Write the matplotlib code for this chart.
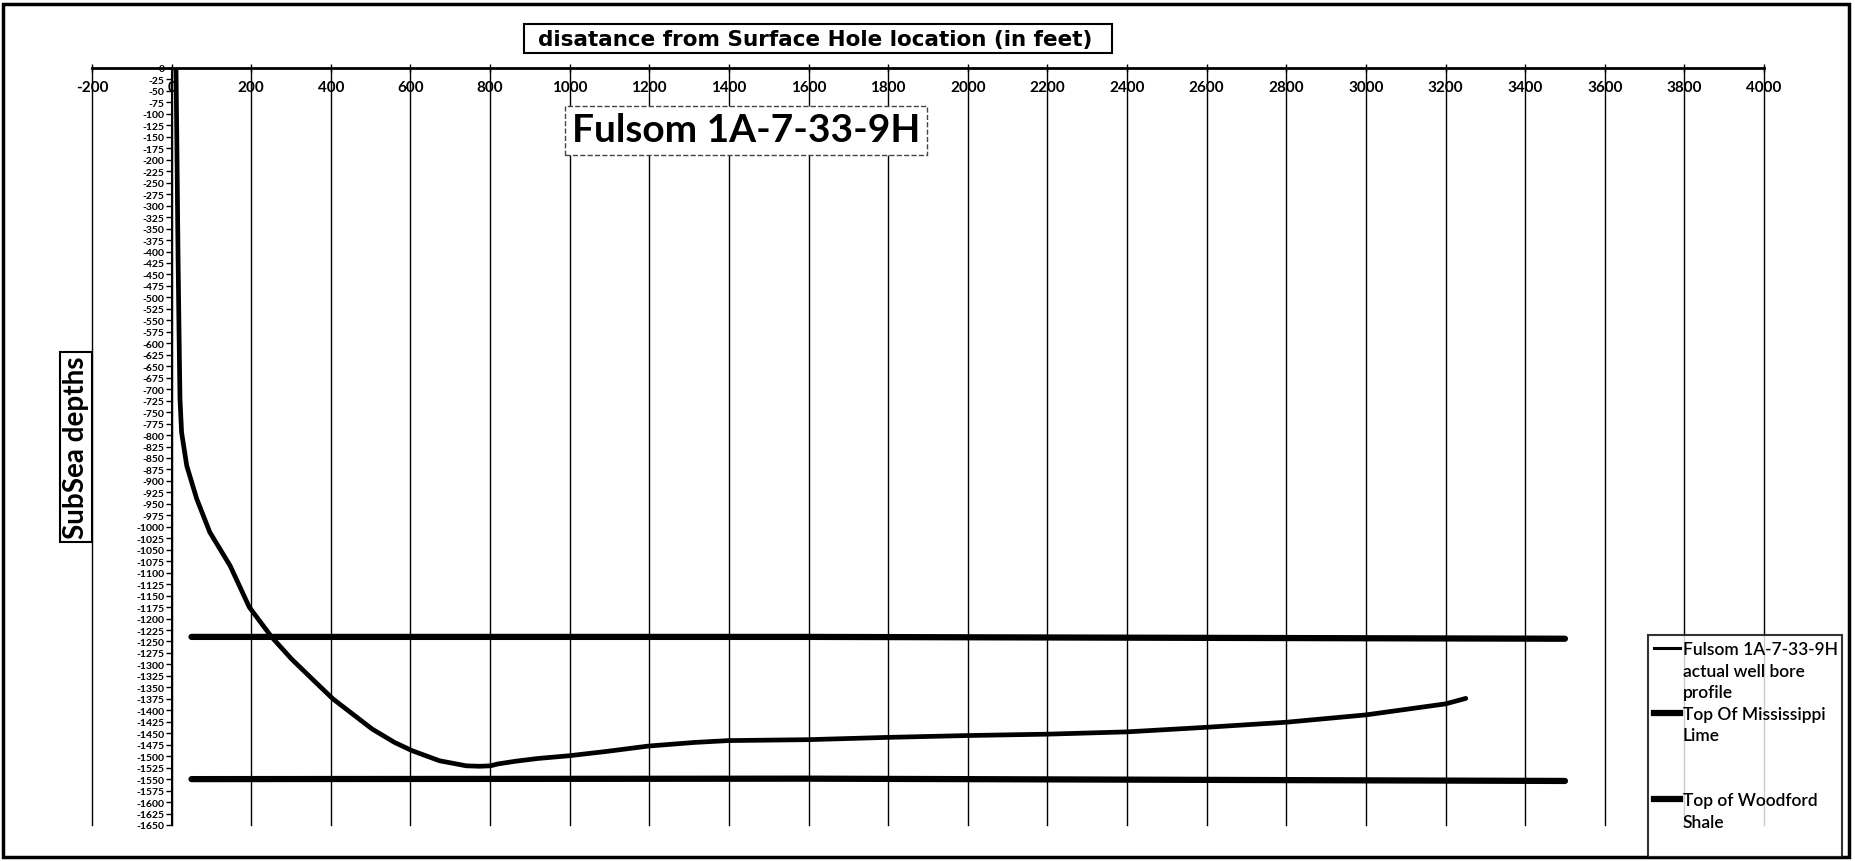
import matplotlib.pyplot as plt
from matplotlib.lines import Line2D
from matplotlib.patches import Rectangle

plt.rcParams['font.family'] = ['Lato', 'DejaVu Sans']
plt.rcParams['axes.unicode_minus'] = False

# well bore profile: distance from surface hole (ft) vs subsea depth (ft)
well_x = [11, 13, 16, 19, 21, 25, 38, 63, 96, 147, 195, 251, 301, 357, 405,
          459, 504, 560, 604, 673, 740, 774, 801, 819, 864, 920, 999, 1089,
          1197, 1314, 1399, 1599, 1800, 2000, 2200, 2400, 2600, 2800, 3000,
          3200, 3251]
well_y = [0, -150, -400, -600, -721, -794, -867, -939, -1012, -1085, -1175,
          -1240, -1288, -1335, -1375, -1411, -1441, -1470, -1488, -1510,
          -1521, -1522, -1521, -1517, -1511, -1505, -1499, -1490, -1478,
          -1470, -1466, -1464, -1459, -1455, -1452, -1447, -1437, -1426,
          -1410, -1386, -1374]

# formation tops
miss_x = [50, 1600, 3500]
miss_y = [-1240, -1240, -1244]
wood_x = [50, 1600, 3500]
wood_y = [-1550, -1549, -1554]

series_names = ['Fulsom 1A-7-33-9H\nactual well bore\nprofile',
                'Top Of Mississippi\nLime',
                'Top of Woodford\nShale']

x_ticks = list(range(-200, 4001, 200))
y_ticks = list(range(0, -1651, -25))

W, H = 1855, 862
fig = plt.figure(figsize=(W / 100, H / 100), dpi=100)
fig.patch.set_facecolor('white')


def fx(px):
    return px / W


def fy(py):
    return 1 - py / H


ax = fig.add_axes([fx(92), fy(826), fx(1764) - fx(92), fy(69) - fy(826)])
ax.set_xlim(-200, 4000)
ax.set_ylim(-1650, 0)

line_well, = ax.plot(well_x, well_y, color='black', lw=3.4,
                     solid_capstyle='round', solid_joinstyle='round')
line_miss, = ax.plot(miss_x, miss_y, color='black', lw=4.5,
                     solid_capstyle='round')
line_wood, = ax.plot(wood_x, wood_y, color='black', lw=4.5,
                     solid_capstyle='round')

# axes: x axis along the top (y = 0), y axis crossing at x = 0
ax.spines['bottom'].set_visible(False)
ax.spines['right'].set_visible(False)
ax.spines['top'].set_linewidth(2)
ax.spines['left'].set_position(('data', 0))
ax.spines['left'].set_linewidth(1.5)

ax.set_xticks(x_ticks)
ax.set_yticks(y_ticks)
ax.tick_params(axis='x', top=True, bottom=False, labeltop=True,
               labelbottom=False, direction='inout', length=6, width=1,
               pad=-22, labelsize=11)
ax.tick_params(axis='y', direction='out', length=4, width=1, pad=1,
               labelsize=7.5)
for t in ax.xaxis.get_major_ticks() + ax.yaxis.get_major_ticks():
    t.label1.set_fontweight('bold')
    t.label2.set_fontweight('bold')

ax.grid(axis='x', color='black', lw=1)
ax.set_axisbelow(True)
for gl in ax.get_xgridlines():
    gl.set_clip_on(False)

# legend, one row per text line like the excel legend
blank = Line2D([], [], color='none')
handles, labels = [], []
for ln, name in zip([line_well, line_miss, line_wood], series_names):
    parts = name.split('\n')
    if ln is line_wood:
        handles += [blank, blank]
        labels += [' ', ' ']
    handles.append(Line2D([], [], color='black',
                          lw=2.2 if ln is line_well else 4.5))
    labels.append(parts[0])
    for p in parts[1:]:
        handles.append(blank)
        labels.append(p)
handles.append(blank)
labels.append(' ')

leg = fig.legend(handles, labels, loc='upper left',
                 bbox_to_anchor=(fx(1648), fy(854), fx(1842) - fx(1648),
                                 fy(636) - fy(854)),
                 mode='expand', frameon=True, fancybox=False,
                 edgecolor='black', borderpad=0.35, labelspacing=0.32,
                 handlelength=1.5, handletextpad=0.15, borderaxespad=0,
                 prop={'weight': 'semibold', 'size': 12.5})
leg.get_frame().set_linewidth(1.5)

# x axis title box
fig.patches.append(Rectangle((fx(524), fy(54)), fx(1112) - fx(524),
                             fy(25) - fy(54), transform=fig.transFigure,
                             fill=True, fc='white', ec='black', lw=1.5))
fig.text(fx(815), fy(40), 'disatance from Surface Hole location (in feet)',
         ha='center', va='center', fontsize=15.5, fontweight='bold',
         family=['DejaVu Sans'])

# chart title
fig.text(fx(746), fy(131), 'Fulsom 1A-7-33-9H', ha='center', va='center',
         fontsize=28, fontweight='bold',
         bbox=dict(boxstyle='square,pad=0.18', fc='white', ec='#444444',
                   ls='--', lw=1))

# y axis title
fig.text(fx(76), fy(448), 'SubSea depths', ha='center', va='center',
         rotation=90, fontsize=20, fontweight='bold',
         bbox=dict(boxstyle='square,pad=0.12', fc='white', ec='black',
                   lw=1.5))

# outer chart border
fig.patches.append(Rectangle((fx(3), fy(858)), fx(1849) - fx(3),
                             fy(5) - fy(858), transform=fig.transFigure,
                             fill=False, ec='black', lw=2.5))

fig.savefig('out.png', dpi=100)
